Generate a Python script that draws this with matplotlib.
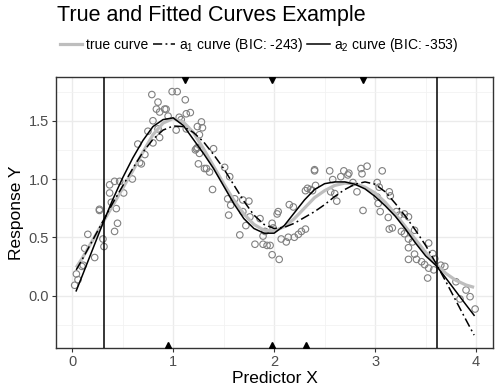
import numpy as np
import matplotlib
matplotlib.use("Agg")
import matplotlib.pyplot as plt
from matplotlib.lines import Line2D
from matplotlib.ticker import MultipleLocator

plt.rcParams['font.family'] = ['Liberation Sans', 'DejaVu Sans']
plt.rcParams['mathtext.fontset'] = 'custom'
plt.rcParams['mathtext.rm'] = 'Liberation Sans'
plt.rcParams['mathtext.it'] = 'Liberation Sans:italic'

obs_x = [0.025, 0.042, 0.058, 0.096, 0.11, 0.124, 0.155, 0.223, 0.27, 0.27, 0.305, 0.315,
         0.371, 0.371, 0.388, 0.42, 0.42, 0.437, 0.449, 0.47, 0.51,
         0.596, 0.65, 0.668, 0.685, 0.72, 0.75, 0.789, 0.80, 0.80, 0.834, 0.85, 0.85,
         0.866, 0.866, 0.916, 0.93, 0.95, 0.99,
         1.03, 1.04, 1.06, 1.08, 1.12, 1.13, 1.13, 1.17, 1.22, 1.23, 1.24, 1.26, 1.24,
         1.26, 1.28, 1.29, 1.25, 1.31, 1.33, 1.36, 1.39, 1.40,
         1.51, 1.54, 1.55, 1.56, 1.57, 1.61, 1.66, 1.69, 1.69, 1.72, 1.75, 1.76, 1.81,
         1.86, 1.89, 1.89, 1.91, 1.93, 1.96, 1.98, 1.98,
         1.99, 2.03, 2.04, 2.05, 2.07, 2.12, 2.14, 2.15, 2.19, 2.20, 2.24, 2.27, 2.31,
         2.31, 2.33, 2.36, 2.38, 2.41, 2.40, 2.40,
         2.55, 2.56, 2.58, 2.60, 2.62, 2.66, 2.69, 2.73, 2.74, 2.78, 2.82, 2.86, 2.87,
         2.88, 2.92,
         3.02, 3.02, 3.04, 3.03, 3.05, 3.07, 3.13, 3.14, 3.15, 3.14, 3.17, 3.21, 3.24,
         3.26, 3.29, 3.29, 3.33, 3.33, 3.33, 3.33, 3.37, 3.39, 3.39, 3.41, 3.46, 3.49,
         3.52, 3.53, 3.53, 3.57, 3.58, 3.59, 3.65, 3.69, 3.80, 3.84, 3.90, 3.94, 3.99]
obs_y = [0.088, 0.185, 0.136, 0.25, 0.26, 0.405, 0.525, 0.326, 0.73, 0.74, 0.485, 0.42,
         0.95, 0.88, 0.80, 0.98, 0.55, 0.746, 0.62, 0.98, 0.88,
         1.00, 1.30, 1.14, 1.13, 1.21, 1.41, 1.725, 1.50, 1.31, 1.60, 1.66, 1.43,
         1.575, 1.356, 1.60, 1.60, 1.54, 1.75,
         1.42, 1.75, 1.53, 1.51, 1.68, 1.56, 1.43, 1.57, 1.25, 1.26, 1.27, 1.22, 1.45,
         1.38, 1.49, 1.44, 1.13, 1.09, 1.09, 1.06, 0.91, 1.26,
         1.10, 0.83, 0.69, 1.02, 0.775, 0.83, 0.52, 0.82, 0.72, 0.60, 0.81, 0.675, 0.44,
         0.66, 0.44, 0.51, 0.55, 0.43, 0.43, 0.62, 0.35,
         0.58, 0.70, 0.72, 0.31, 0.485, 0.46, 0.50, 0.78, 0.76, 0.50, 0.525, 0.55, 0.57,
         0.90, 0.92, 0.91, 0.90, 0.945, 1.07, 1.08,
         1.07, 0.89, 0.995, 0.875, 0.81, 1.02, 1.07, 1.035, 1.05, 0.97, 0.89, 1.09, 1.045,
         0.73, 1.11,
         0.97, 0.845, 0.93, 0.79, 0.72, 1.07, 0.67, 0.89, 0.855, 0.57, 0.58, 0.72, 0.69,
         0.55, 0.70, 0.53, 0.675, 0.485, 0.41, 0.31, 0.46, 0.56, 0.355, 0.31, 0.29, 0.265,
         0.15, 0.45, 0.235, 0.36, 0.22, 0.315, 0.26, 0.25, 0.118, -0.03, 0.047, -0.01, -0.116]

# curves
curve_x = [0.04, 0.1, 0.2, 0.3, 0.4, 0.5, 0.6, 0.7, 0.8, 0.9, 1.0, 1.1, 1.2, 1.3, 1.4,
           1.5, 1.6, 1.7, 1.8, 1.9, 2.0, 2.1, 2.2, 2.3, 2.4, 2.5, 2.6, 2.7, 2.8, 2.9,
           3.0, 3.1, 3.2, 3.3, 3.4, 3.5, 3.6, 3.7, 3.8, 3.9, 3.98]
true_y = [0.24, 0.32, 0.47, 0.62, 0.77, 0.92, 1.07, 1.23, 1.38, 1.48, 1.52, 1.49, 1.40,
          1.26, 1.11, 0.96, 0.82, 0.70, 0.61, 0.56, 0.555, 0.59, 0.66, 0.75, 0.84, 0.90,
          0.945, 0.965, 0.96, 0.93, 0.88, 0.80, 0.70, 0.59, 0.48, 0.37, 0.27, 0.19,
          0.13, 0.09, 0.07]
a1_y = [0.22, 0.31, 0.47, 0.63, 0.79, 0.94, 1.09, 1.23, 1.34, 1.42, 1.455, 1.45, 1.40,
        1.32, 1.21, 1.09, 0.95, 0.81, 0.69, 0.61, 0.575, 0.585, 0.62, 0.67, 0.72, 0.78,
        0.85, 0.91, 0.955, 0.975, 0.955, 0.89, 0.79, 0.68, 0.56, 0.43, 0.28, 0.12,
        -0.045, -0.21, -0.34]
a2_y = [0.04, 0.17, 0.39, 0.61, 0.82, 1.01, 1.18, 1.33, 1.45, 1.51, 1.525, 1.46, 1.34,
        1.22, 1.09, 0.94, 0.79, 0.66, 0.575, 0.535, 0.535, 0.60, 0.71, 0.82, 0.91, 0.96,
        0.975, 0.975, 0.955, 0.915, 0.85, 0.77, 0.68, 0.57, 0.45, 0.34, 0.26, 0.15,
        0.035, -0.08, -0.17]

boundary_knots = [0.317, 3.61]
knots_top = [1.12, 1.98, 2.88]
knots_bottom = [0.947, 1.98, 2.32]

labels = ['true curve', r'a$_{\mathrm{1}}$ curve (BIC: -243)', r'a$_{\mathrm{2}}$ curve (BIC: -353)']

fig = plt.figure(figsize=(4.97, 3.89), dpi=100)
ax = fig.add_axes([56 / 497, 1 - 347.7 / 389, (493.3 - 56) / 497, (347.7 - 77.3) / 389])

ax.set_xlim(-0.16, 4.17)
ax.set_ylim(-0.448, 1.873)
ax.xaxis.set_major_locator(MultipleLocator(1))
ax.xaxis.set_minor_locator(MultipleLocator(0.5))
ax.yaxis.set_major_locator(MultipleLocator(0.5))
ax.yaxis.set_minor_locator(MultipleLocator(0.25))
ax.grid(which='major', color='#EBEBEB', lw=1.0)
ax.grid(which='minor', color='#F2F2F2', lw=0.6)
ax.set_axisbelow(True)
ax.set_xticks([0, 1, 2, 3, 4])
ax.set_xticklabels(['0', '1', '2', '3', '4'])
ax.set_yticks([0.0, 0.5, 1.0, 1.5])
ax.set_yticklabels(['0.0', '0.5', '1.0', '1.5'])
ax.tick_params(which='major', length=3, width=0.8, color='#333333', labelcolor='#4D4D4D',
               labelsize=10.5, pad=2)
ax.tick_params(which='minor', length=0)
for s in ax.spines.values():
    s.set_color('#333333')
    s.set_linewidth(1.0)

ax.scatter(obs_x, obs_y, s=22, facecolors='none', edgecolors='#808080', linewidths=0.8, zorder=2)
ax.plot(curve_x, true_y, color='#BEBEBE', lw=2.3, zorder=3, solid_capstyle='butt')
ax.plot(curve_x, a1_y, color='black', lw=1.1, dashes=(6, 2.2, 1.2, 2.2), zorder=4)
ax.plot(curve_x, a2_y, color='black', lw=1.1, zorder=4)

for k in boundary_knots:
    ax.axvline(k, color='black', lw=1.1, zorder=4)

trans = ax.get_xaxis_transform()
ax.plot(knots_top, [0.989] * len(knots_top), 'v', color='black', ms=5, transform=trans, zorder=5)
ax.plot(knots_bottom, [0.011] * len(knots_bottom), '^', color='black', ms=5, transform=trans, zorder=5)

ax.set_xlabel('Predictor X', fontsize=12.5, labelpad=2)
ax.set_ylabel('Response Y', fontsize=12.5, labelpad=3)

fig.text(57 / 497, 1 - 15 / 389, 'True and Fitted Curves Example', fontsize=15.5,
         ha='left', va='center')

handles = [Line2D([], [], color='#BEBEBE', lw=2.3),
           Line2D([], [], color='black', lw=1.1, dashes=(6, 2.2, 1.2, 2.2)),
           Line2D([], [], color='black', lw=1.1)]
fig.legend(handles, labels, loc='center', bbox_to_anchor=(259 / 497, 1 - 45 / 389), ncol=3,
           frameon=False, fontsize=10, handlelength=1.6, handletextpad=0.3,
           columnspacing=0.3, borderaxespad=0)

fig.savefig('out.png', dpi=100)
